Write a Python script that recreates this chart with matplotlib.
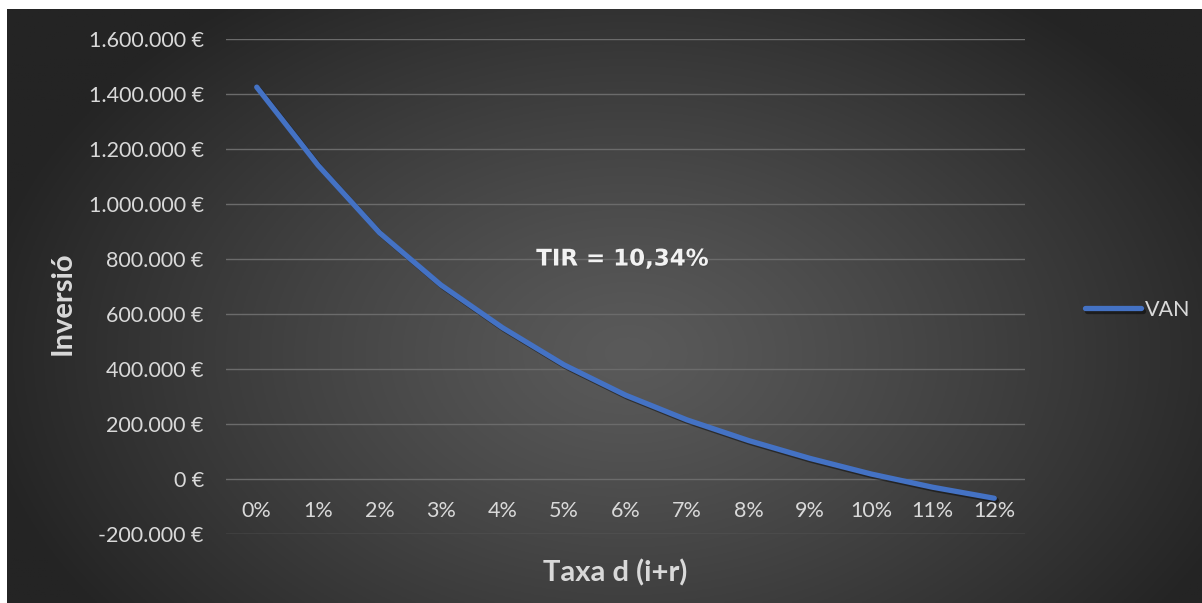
import numpy as np
import matplotlib.pyplot as plt
import matplotlib.patheffects as pe
from matplotlib.ticker import FuncFormatter

W, H = 1202, 603

taxes = ['0%', '1%', '2%', '3%', '4%', '5%', '6%', '7%', '8%', '9%', '10%', '11%', '12%']
van = [1425000, 1140000, 895000, 705000, 550000, 415000, 305000,
       215000, 140000, 75000, 18000, -30000, -70000]
y_ticks = [-200000, 0, 200000, 400000, 600000, 800000, 1000000,
           1200000, 1400000, 1600000]
tir_text = 'TIR = 10,34%'

plt.rcParams['font.family'] = ['Lato', 'DejaVu Sans']

fig = plt.figure(figsize=(W / 100, H / 100), dpi=100, facecolor='white')

# background: radial gradient like the excel theme
bg = fig.add_axes([7 / W, 0, 1 - 7 / W, 1 - 9 / H], zorder=-10)
gx, gy = np.meshgrid(np.linspace(0, 1, 600), np.linspace(0, 1, 300))
d = np.sqrt(((gx - 0.52) / 0.55) ** 2 + ((gy - 0.58) / 0.75) ** 2)
d = np.clip(d, 0, 1)
c0, c1 = 0x5a / 255, 0x24 / 255
g = c0 + (c1 - c0) * d ** 1.2
bg.imshow(np.dstack([g, g, g]), aspect='auto', extent=(0, 1, 0, 1), origin='upper')
bg.axis('off')

ax = fig.add_axes([226 / W, 1 - 534 / H, (1025 - 226) / W, (534 - 39) / H])
ax.set_facecolor('none')
x = np.arange(len(taxes))
line, = ax.plot(x, van, color='#4472C4', lw=3.8, solid_capstyle='round',
                solid_joinstyle='round', label='VAN',
                path_effects=[pe.SimpleLineShadow(offset=(1.5, -1.5), alpha=0.45),
                              pe.Normal()])
ax.set_xlim(-0.5, len(taxes) - 0.5)
ax.set_ylim(-200000, 1600000)
ax.set_yticks(y_ticks)
ax.yaxis.set_major_formatter(FuncFormatter(lambda v, p: f'{v:,.0f} €'.replace(',', '.')))
ax.set_xticks(x)
ax.set_xticklabels(taxes)
ax.grid(axis='y', color='#6b6b6b', lw=1)
ax.set_axisbelow(True)
for s in ['top', 'right', 'left']:
    ax.spines[s].set_visible(False)
ax.spines['bottom'].set_position(('data', 0))
ax.spines['bottom'].set_visible(False)
ax.tick_params(axis='y', length=0, pad=16, labelsize=15.5, labelcolor='#D9D9D9')
ax.tick_params(axis='x', length=0, pad=15.5, labelsize=15.5, labelcolor='#D9D9D9')

ax.text(5.95, 800000, tir_text, ha='center', va='center', fontsize=16.5,
        fontweight='bold', color='#F2F2F2', family='DejaVu Sans',
        path_effects=[pe.withSimplePatchShadow(offset=(1, -1), alpha=0.6)])

fig.text(63 / W, 1 - 303 / H, 'Inversió', rotation=90, ha='center', va='center',
         fontsize=21, fontweight='bold', color='#D9D9D9')
fig.text(615 / W, 1 - 573 / H, 'Taxa d (i+r)', ha='center', va='center',
         fontsize=21, fontweight='bold', color='#D9D9D9')

ax.legend(handles=[line], loc='center left', bbox_to_anchor=(1085 / W, 1 - 310 / H),
          bbox_transform=fig.transFigure, frameon=False, fontsize=15.5,
          labelcolor='#D9D9D9', handlelength=2.6, handletextpad=0.2,
          borderpad=0, borderaxespad=0)

fig.savefig('out.png', dpi=100, facecolor='white')
